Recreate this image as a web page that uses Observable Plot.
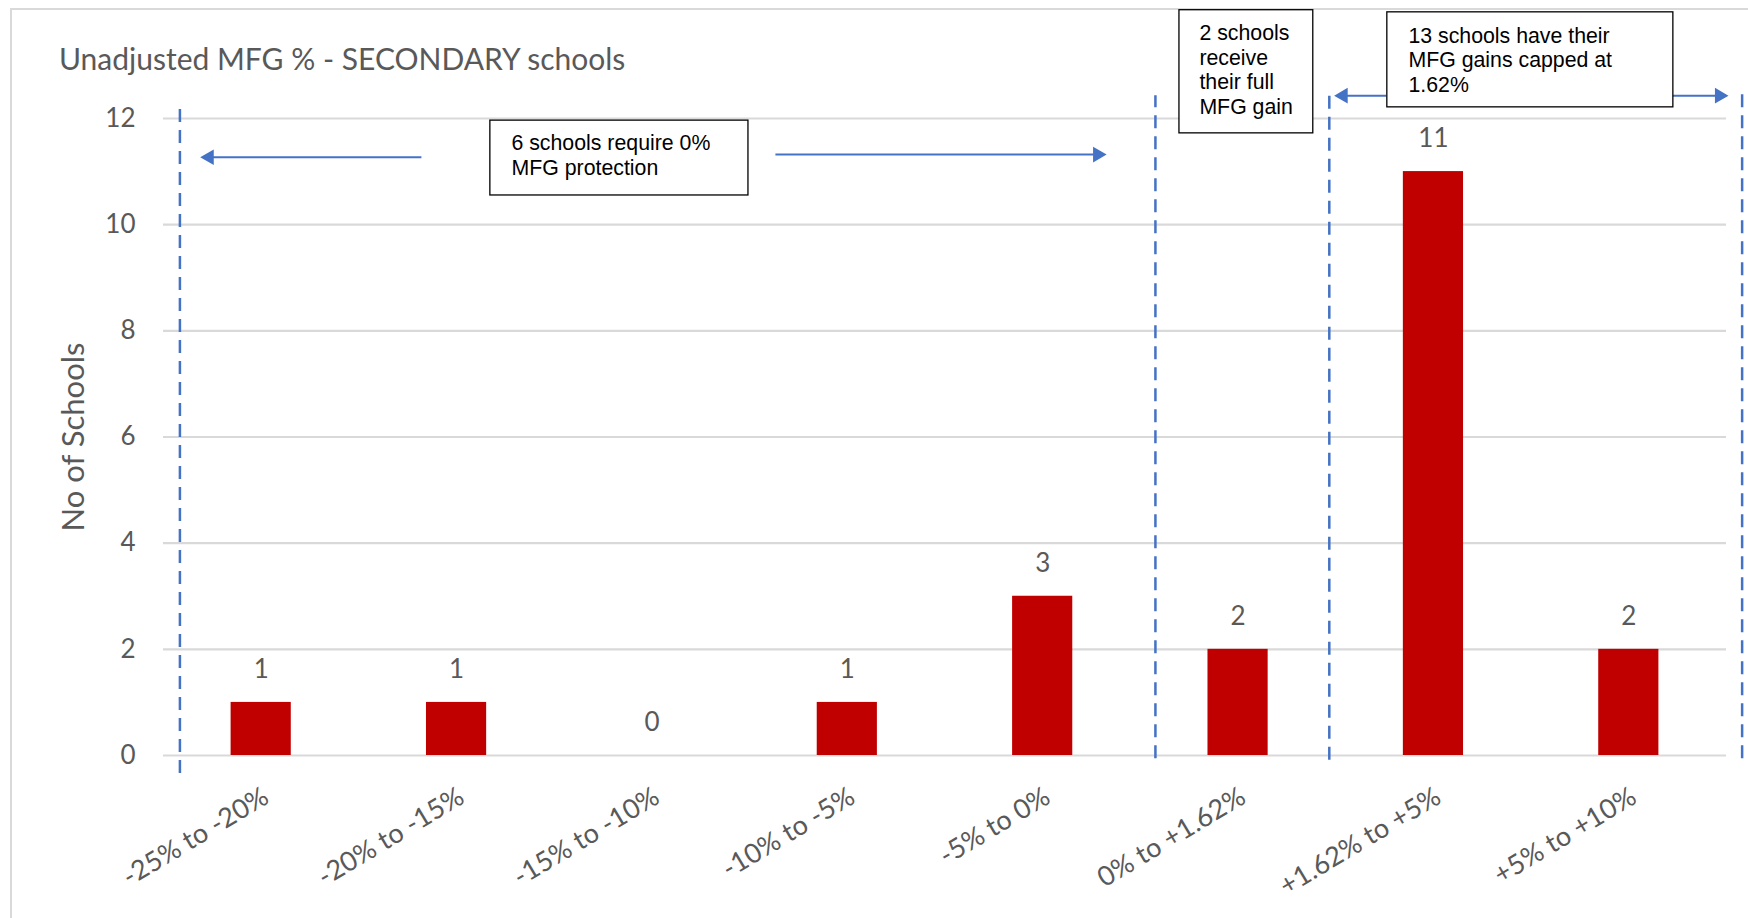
<!DOCTYPE html>
<html><head><meta charset="utf-8">
<script src="https://cdn.jsdelivr.net/npm/d3@7"></script>
<script src="https://cdn.jsdelivr.net/npm/@observablehq/plot@0.6"></script>
<style>
html,body{margin:0;padding:0;background:#fff;}
#wrap{position:relative;width:1748px;height:918px;overflow:hidden;}
#frame{position:absolute;left:10px;top:8px;width:1800px;height:1000px;border-left:2px solid #d9d9d9;border-top:2px solid #d9d9d9;}
#chart{position:absolute;left:0;top:0;}
#title{position:absolute;left:59px;top:40px;font-family:Lato,'Open Sans',sans-serif;font-size:30px;line-height:36px;color:#595959;white-space:nowrap;}
</style></head>
<body><div id="wrap"><div id="frame"></div><div id="chart"></div><div id="title">Unadjusted MFG % - SECONDARY schools</div></div>
<script>
// ---- data ----
const categories = ["-25% to -20%", "-20% to -15%", "-15% to -10%", "-10% to -5%", "-5% to 0%", "0% to +1.62%", "+1.62% to +5%", "+5% to +10%"];
const counts = [1, 1, 0, 1, 3, 2, 11, 2];
const yTicks = [0, 2, 4, 6, 8, 10, 12];
const yLabel = "No of Schools";

// annotation positions in data units (x = category index, y = number of schools)
const dividerX = [-0.416, 4.577, 5.467, 7.58];
const dividerTop = [12.19, 12.43, 12.43, 12.6];
const dividerBottom = [-0.34, -0.06, -0.09, -0.06];

const arrowFrom = [0.82, 2.632, 5.759, 7.223];
const arrowTo = [-0.266, 4.281, 5.538, 7.464];
const arrowY = [11.27, 11.32, 12.43, 12.43];

const noteText = ["6 schools require 0%\nMFG protection", "2 schools\nreceive\ntheir full\nMFG gain", "13 schools have their\nMFG gains capped at\n1.62%"];
const noteX1 = [1.173, 4.700, 5.764];
const noteX2 = [2.494, 5.385, 7.228];
const noteY1 = [10.55, 11.72, 12.21];
const noteY2 = [11.96, 14.04, 14.0];
const noteTextX = [1.281, 4.802, 5.872];
const noteTextY = [11.74, 13.81, 13.76];

// ---- tables ----
const rows = categories.map((c, i) => ({i, category: c, count: counts[i]}));
const dividers = dividerX.map((x, i) => ({x, y1: dividerBottom[i], y2: dividerTop[i]}));
const arrows = arrowFrom.map((x1, i) => ({x1, x2: arrowTo[i], y: arrowY[i]}));
const notes = noteText.map((t, i) => ({text: t, x1: noteX1[i], x2: noteX2[i], y1: noteY1[i], y2: noteY2[i], tx: noteTextX[i], ty: noteTextY[i]}));

const gray = "#595959";
const blue = "#4472C4";
const font = "Lato, 'Open Sans', sans-serif";
const half = 0.154;

const chart = Plot.plot({
  width: 1748, height: 918,
  marginLeft: 163, marginRight: 22, marginTop: 118, marginBottom: 163,
  style: {fontFamily: font, background: "transparent", overflow: "visible"},
  x: {type: "linear", domain: [-0.5, 7.5]},
  y: {domain: [0, 12]},
  marks: [
    Plot.gridY(yTicks, {stroke: "#d9d9d9", strokeOpacity: 1, strokeWidth: 2.2}),
    Plot.axisY(yTicks, {tickSize: 0, tickPadding: 28, fontSize: 26, fill: gray, tickFormat: d => String(d), label: null}),
    Plot.text([yLabel], {frameAnchor: "left", textAnchor: "middle", rotate: -90, dx: -89, fontSize: 31, fill: gray}),
    Plot.axisX(rows.map(d => d.i), {tickSize: 0, tickPadding: 39, tickRotate: -31, dx: 5, tickFormat: i => categories[i], fontSize: 27, fill: gray, label: null}),
    Plot.rectY(rows, {x1: d => d.i - half, x2: d => d.i + half, y1: 0, y2: "count", fill: "#C00000"}),
    Plot.text(rows, {x: "i", y: "count", text: d => String(d.count), dy: -33, fontSize: 26, fill: gray}),
    Plot.ruleX(dividers, {x: "x", y1: "y1", y2: "y2", stroke: blue, strokeWidth: 2.5, strokeDasharray: "13,8"}),
    Plot.link(arrows, {x1: "x1", x2: "x2", y1: "y", y2: "y", stroke: blue, strokeWidth: 2}),
    Plot.dot(arrows, {x: "x2", y: "y", symbol: "triangle", r: 5.8, fill: blue, stroke: null, rotate: d => d.x2 > d.x1 ? 90 : -90}),
    Plot.rect(notes, {x1: "x1", x2: "x2", y1: "y1", y2: "y2", fill: "white", stroke: "black", strokeWidth: 1.3}),
    Plot.text(notes, {x: "tx", y: "ty", text: "text", textAnchor: "start", lineAnchor: "top", lineHeight: 1.16, fontSize: 21.3, fontFamily: "'Liberation Sans', Arial, sans-serif", fill: "black"})
  ]
});
document.getElementById("chart").appendChild(chart);
</script>
</body></html>
